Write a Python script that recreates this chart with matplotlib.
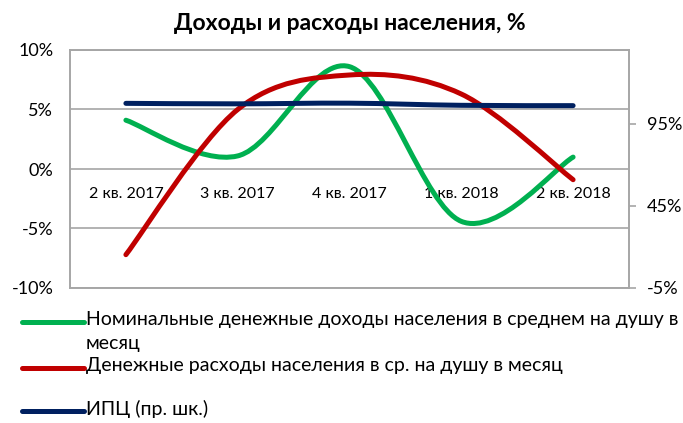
import numpy as np
import matplotlib.pyplot as plt
from matplotlib.path import Path
from matplotlib.patches import PathPatch
from matplotlib.lines import Line2D

plt.rcParams['font.family'] = ['Lato', 'DejaVu Sans']

quarters = ['2 кв. 2017', '3 кв. 2017', '4 кв. 2017', '1 кв. 2018', '2 кв. 2018']
income = [4.1, 1.1, 8.6, -4.4, 1.0]        # % left axis
spending = [-7.2, 5.0, 7.9, 6.3, -0.9]     # % left axis
cpi = [107.5, 107.2, 107.6, 106.3, 106.1]  # % right axis

labels = ['Номинальные денежные доходы населения в среднем на душу в\nмесяц',
          'Денежные расходы населения в ср. на душу в месяц',
          'ИПЦ (пр. шк.)']
colors = ['#00B050', '#C00000', '#002060']
grid_c = '#A6A6A6'


def smooth_path(xs, ys):
    # excel-like smoothed line: catmull-rom segments as cubic beziers
    p = np.column_stack([xs, ys]).astype(float)
    n = len(p)
    verts = [p[0]]
    codes = [Path.MOVETO]
    for i in range(n - 1):
        p0 = p[i - 1] if i > 0 else p[i]
        p3 = p[i + 2] if i + 2 < n else p[i + 1]
        c1 = p[i] + (p[i + 1] - p0) / 6
        c2 = p[i + 1] - (p3 - p[i]) / 6
        verts += [c1, c2, p[i + 1]]
        codes += [Path.CURVE4] * 3
    return Path(verts, codes)


fig = plt.figure(figsize=(6.83, 4.23), dpi=100)
ax = fig.add_axes([70 / 683, 1 - 288 / 423, 559 / 683, 238 / 423])
x = np.arange(len(quarters))

ax.set_xlim(-0.5, 4.5)
ax.set_ylim(-10, 10)
ax.set_yticks([-10, -5, 0, 5, 10])
ax.set_yticklabels(['-10%', '-5%', '0%', '5%', '10%'], fontsize=13)
ax.tick_params(axis='y', length=0, pad=12)
ax.set_xticks([])
ax.grid(axis='y', color=grid_c, lw=1.2)
for s in ax.spines.values():
    s.set_color(grid_c)
    s.set_linewidth(1.2)

ax2 = ax.twinx()
ax2.set_ylim(-5, 140)
ax2.set_yticks([-5, 45, 95])
ax2.set_yticklabels(['-5%', '45%', '95%'], fontsize=13)
ax2.tick_params(axis='y', length=5, color=grid_c, width=1.2, pad=8)
for s in ax2.spines.values():
    s.set_color(grid_c)
    s.set_linewidth(1.2)

for i, q in enumerate(quarters):
    ax.annotate(q, (x[i], 0), xytext=(0, -18), textcoords='offset points',
                ha='center', va='center', fontsize=11.5)

lw = 3.6
ax.add_patch(PathPatch(smooth_path(x, income), fill=False, ec=colors[0], lw=lw,
                       capstyle='round', zorder=3))
ax.add_patch(PathPatch(smooth_path(x, spending), fill=False, ec=colors[1], lw=lw,
                       capstyle='round', zorder=3))
ax2.add_patch(PathPatch(smooth_path(x, cpi), fill=False, ec=colors[2], lw=lw,
                        capstyle='round', zorder=3))

fig.text(350 / 683, 1 - 23 / 423, 'Доходы и расходы населения, %', ha='center',
         va='center', fontsize=16.5, fontweight='bold')

# legend drawn by hand, first label wraps under its line
leg_y = [322, 368, 411]
for c, lab, yy in zip(colors, labels, leg_y):
    fy = 1 - yy / 423
    fig.add_artist(Line2D([22 / 683, 84 / 683], [fy, fy], color=c, lw=lw,
                          solid_capstyle='round'))
    fig.text(86 / 683, fy + 11 / 423, lab, ha='left', va='top', fontsize=14,
             linespacing=1.5)

fig.savefig('out.png', dpi=100)
